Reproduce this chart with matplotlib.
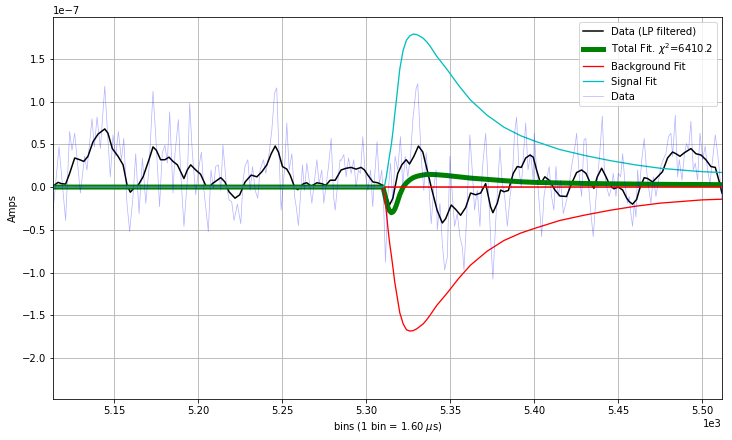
import matplotlib
matplotlib.use("Agg")
import matplotlib.pyplot as plt
import numpy as np

# ---- LP filtered data (units of 1e-7 A) ----
lp_bins = [5113.7, 5116.7, 5118.7, 5121.2, 5123.6, 5126.6, 5129.6, 5132.0, 5134.5, 5137.5,
           5140.5, 5144.5, 5146.4, 5149.0, 5152.4, 5155.4, 5157.8, 5159.7, 5161.7, 5164.3,
           5167.3, 5170.8, 5173.2, 5175.2, 5177.7, 5180.3, 5182.7, 5185.1, 5187.7, 5191.6,
           5193.6, 5195.6, 5198.6, 5201.5, 5204.5, 5206.5, 5208.5, 5213.5, 5216.0, 5218.4,
           5222.0, 5224.8, 5228.0, 5231.6, 5235.0, 5238.0, 5240.9, 5243.5, 5245.9, 5247.8,
           5250.2, 5252.8, 5254.8, 5257.4, 5259.3, 5262.7, 5264.7, 5267.3, 5270.7, 5273.6,
           5276.0, 5278.6, 5281.6, 5285.1, 5288.1, 5291.0, 5294.0, 5297.0, 5299.0, 5301.0,
           5304.0, 5306.9, 5309.9, 5311.9, 5313.9, 5315.9, 5318.8, 5321.2, 5323.8, 5325.8,
           5328.4, 5331.1, 5333.7, 5336.3, 5338.7, 5342.2, 5345.3, 5347.3, 5350.6, 5353.2,
           5356.2, 5359.2, 5362.1, 5365.1, 5368.1, 5371.1, 5374.0, 5375.4, 5378.0, 5380.0,
           5382.0, 5384.6, 5387.5, 5389.9, 5392.3, 5394.9, 5397.5, 5399.4, 5401.4, 5403.8,
           5406.3, 5408.9, 5412.3, 5415.3, 5419.2, 5422.2, 5425.2, 5428.2, 5430.8, 5433.5,
           5435.5, 5437.5, 5440.1, 5442.7, 5445.0, 5447.4, 5450.0, 5452.6, 5455.0, 5456.5,
           5458.5, 5460.9, 5462.8, 5465.4, 5467.4, 5470.4, 5473.4, 5476.3, 5479.3, 5482.3,
           5484.3, 5486.7, 5489.2, 5493.2, 5496.2, 5499.2, 5502.1, 5505.1, 5507.7, 5510.1,
           5511.7]
lp_vals = [0.01, 0.055, 0.04, 0.035, 0.16, 0.34, 0.32, 0.30, 0.36, 0.53,
           0.62, 0.68, 0.63, 0.45, 0.36, 0.26, 0.02, -0.06, -0.015, 0.02,
           0.12, 0.32, 0.47, 0.43, 0.32, 0.32, 0.35, 0.30, 0.26, 0.10,
           0.20, 0.26, 0.20, 0.15, 0.02, -0.01, 0.04, 0.11, 0.06, -0.055,
           -0.13, -0.09, 0.06, 0.14, 0.12, 0.18, 0.26, 0.39, 0.48, 0.41,
           0.24, 0.21, 0.14, 0.0, -0.03, 0.04, 0.05, 0.01, 0.05, 0.04,
           0.02, 0.08, 0.08, 0.20, 0.22, 0.23, 0.21, 0.23, 0.20, 0.14,
           0.06, 0.05, 0.02, -0.09, -0.21, -0.13, 0.16, 0.26, 0.32, 0.27,
           0.36, 0.48, 0.41, 0.20, 0.0, -0.27, -0.42, -0.37, -0.21, -0.26,
           -0.33, -0.24, -0.07, -0.09, -0.07, 0.04, -0.23, -0.30, -0.19, -0.035,
           -0.055, -0.04, 0.16, 0.24, 0.23, 0.34, 0.375, 0.35, 0.20, 0.04,
           0.12, 0.08, -0.035, -0.105, -0.11, 0.04, 0.17, 0.20, 0.16, 0.04,
           -0.015, 0.12, 0.22, 0.12, 0.02, -0.02, 0.0, -0.035, -0.13, -0.17,
           -0.20, -0.145, -0.015, 0.11, 0.10, 0.06, 0.12, 0.18, 0.34, 0.41,
           0.39, 0.36, 0.40, 0.45, 0.39, 0.375, 0.32, 0.24, 0.23, 0.06,
           -0.07]

# ---- Fit curves (units of 1e-7 A) ----
fit_bins = [5113.7, 5310, 5311, 5312, 5313, 5314, 5315, 5316, 5317, 5318, 5319, 5320,
            5322, 5324, 5326, 5328, 5330, 5332, 5334, 5336, 5338, 5342, 5348, 5355,
            5362, 5372, 5382, 5392, 5400, 5415, 5430, 5445, 5460, 5475, 5490, 5500, 5511.7]
total_fit = [0, 0, -0.08, -0.17, -0.24, -0.28, -0.30, -0.29, -0.26, -0.21, -0.15, -0.09,
             0.0, 0.05, 0.085, 0.11, 0.125, 0.135, 0.142, 0.147, 0.148, 0.145, 0.135, 0.12,
             0.105, 0.09, 0.075, 0.062, 0.055, 0.048, 0.042, 0.038, 0.035, 0.032, 0.03, 0.03, 0.028]
background_fit = [0, 0, -0.10, -0.29, -0.49, -0.66, -0.80, -0.95, -1.11, -1.23, -1.35, -1.47,
                  -1.60, -1.67, -1.685, -1.68, -1.66, -1.63, -1.60, -1.553, -1.50, -1.385, -1.245, -1.07,
                  -0.915, -0.75, -0.625, -0.538, -0.485, -0.392, -0.328, -0.272, -0.225, -0.188, -0.165, -0.15, -0.142]
signal_fit = [0, 0, 0.02, 0.12, 0.25, 0.38, 0.50, 0.66, 0.85, 1.02, 1.20, 1.38,
              1.60, 1.72, 1.77, 1.79, 1.785, 1.765, 1.74, 1.70, 1.65, 1.53, 1.38, 1.19,
              1.02, 0.84, 0.70, 0.60, 0.54, 0.44, 0.37, 0.31, 0.26, 0.22, 0.195, 0.18, 0.17]
baseline_bins = [5310, 5511.7]
baseline_vals = [0, 0]

# ---- Raw data (units of 1e-7 A) ----
raw_bins = [5113.7, 5117.3, 5121.2, 5123.6, 5125.0, 5126.6, 5130.0, 5132.5, 5133.9, 5136.9,
            5138.3, 5139.9, 5141.9, 5144.5, 5146.4, 5147.8, 5149.4, 5151.0, 5152.6, 5154.4,
            5155.8, 5157.7, 5159.3, 5161.3, 5162.9, 5164.9, 5166.9, 5168.9, 5170.8,
            5173.2, 5175.2, 5177.1, 5178.7, 5180.3, 5181.7, 5183.1, 5185.1, 5186.3, 5188.3,
            5189.6, 5191.6, 5193.6, 5195.0, 5196.6, 5198.6, 5200.2, 5202.0, 5203.5, 5206.1,
            5207.7, 5209.1, 5210.5, 5212.1, 5213.5, 5214.8, 5216.8, 5218.4, 5220.0, 5221.4,
            5223.4, 5225.4, 5226.8, 5228.0, 5229.6, 5231.0, 5232.4, 5234.0, 5235.5, 5236.9,
            5238.9, 5240.3, 5242.3, 5243.9, 5245.5, 5246.8, 5247.8, 5249.4, 5251.4, 5252.8,
            5254.2, 5255.8, 5257.4, 5258.4, 5259.7, 5261.3, 5262.1, 5263.3, 5264.7, 5266.1,
            5267.7, 5269.3, 5270.7, 5272.0, 5273.6, 5274.8, 5276.6, 5277.6, 5279.2, 5280.6,
            5281.6, 5283.2, 5284.5, 5285.1, 5286.7, 5288.1, 5289.5, 5291.1, 5292.6, 5294.0,
            5295.4, 5296.6, 5298.0, 5299.4, 5301.0, 5302.6, 5303.9, 5304.9, 5306.5, 5307.9,
            5309.3, 5310.5, 5311.5, 5312.9, 5314.5, 5315.9, 5317.2, 5318.8, 5320.4, 5321.8,
            5323.2, 5324.8, 5326.4, 5327.8, 5329.7, 5330.7, 5332.7, 5334.3, 5335.7, 5337.1,
            5338.7, 5340.3, 5341.6, 5342.3, 5343.9, 5345.3, 5346.7, 5348.3, 5349.8, 5351.2,
            5352.6, 5354.2, 5355.8, 5357.2, 5358.2, 5359.8, 5361.7, 5363.1, 5364.5, 5366.1,
            5367.7, 5369.1, 5371.1, 5372.5, 5374.0, 5375.4, 5377.0, 5378.6, 5379.6, 5381.0,
            5382.4, 5384.0, 5385.6, 5386.9, 5388.3, 5389.5, 5390.9, 5392.3, 5393.5, 5394.9,
            5396.3, 5397.9, 5399.4, 5400.0, 5401.4, 5403.0, 5404.4, 5405.8, 5407.3, 5408.9,
            5410.3, 5411.7, 5412.9, 5414.3, 5415.7, 5417.3, 5418.8, 5420.2, 5422.2, 5424.2,
            5425.2, 5426.8, 5428.2, 5429.6, 5430.7, 5432.1, 5433.5, 5435.1, 5436.5, 5438.1,
            5439.1, 5440.5, 5441.7, 5443.1, 5444.6, 5446.0, 5447.0, 5448.6, 5450.0, 5451.4,
            5452.6, 5454.0, 5455.4, 5456.5, 5457.5, 5458.5, 5459.5, 5460.5, 5461.5, 5462.5,
            5464.0, 5465.4, 5466.8, 5468.0, 5469.4, 5470.8, 5472.4, 5474.0, 5475.3, 5476.7,
            5478.3, 5479.9, 5481.3, 5482.3, 5483.9, 5485.3, 5486.3, 5487.9, 5489.2, 5490.6,
            5491.8, 5493.2, 5494.6, 5495.8, 5497.2, 5498.6, 5500.2, 5501.7, 5503.1, 5504.5,
            5506.1, 5507.7, 5509.1, 5510.1, 5511.1, 5511.7]
raw_vals = [-0.29, 0.47, -0.39, 0.65, 0.43, 0.63, -0.07, 0.36, 0.20, 0.80,
            0.47, 0.82, 0.45, 1.18, 0.55, 0.12, 0.61, 0.36, 0.65, 0.32,
            0.57, -0.19, -0.52, -0.11, 0.39, -0.31, 0.34, -0.19, 0.22,
            1.12, 0.47, -0.23, 0.40, 0.49, 0.28, 0.88, -0.07, 0.40, 0.79,
            0.20, -0.46, 0.08, 0.98, 0.40, -0.09, 0.20, 0.41, -0.04, -0.52,
            0.20, -0.02, 0.24, 0.26, -0.04, 0.49, 0.04, -0.15, -0.17, -0.39,
            -0.20, -0.43, 0.08, 0.25, 0.32, -0.04, 0.24, -0.04, -0.13, 0.20,
            0.32, 0.16, 0.40, 0.67, 1.10, 1.16, 0.59, -0.27, 0.20, 0.75,
            0.20, 0.39, -0.11, -0.23, -0.45, 0.00, 0.26, -0.04, 0.28, 0.08,
            -0.19, 0.08, 0.32, 0.04, 0.20, -0.19, 0.08, 0.24, 0.57, -0.11,
            -0.27, 0.08, 0.32, 0.31, 0.38, 0.12, 0.34, 0.16, 0.32, 0.00,
            0.20, 0.16, 0.59, 0.16, -0.04, 0.20, -0.23, 0.08, 0.53, 0.04,
            0.20, -0.27, -0.88, -0.11, 0.28, -0.19, 0.36, 0.20, 0.59, 0.00,
            0.36, 0.12, 0.36, 0.79, 1.15, 1.21, 0.36, -0.04, 0.40, 0.08,
            -0.43, 0.00, 0.20, -0.50, -0.19, -0.66, -0.97, -0.82, 0.36, -0.07,
            -0.46, -0.31, -0.58, -0.70, -0.97, -0.35, 0.61, 0.20, -0.27, -0.04,
            -0.46, 0.20, 0.63, 0.08, -0.58, -1.08, -0.43, 0.12, 0.47, 0.04,
            -0.11, -0.46, -0.11, 0.08, 0.63, 0.82, 0.20, 0.00, 0.36, 0.75,
            0.20, 0.39, 0.08, 0.63, 0.20, -0.19, -0.58, -0.11, 0.08, 0.24,
            -0.11, -0.27, 0.24, -0.11, 0.08, -0.31, -0.19, -0.07, 0.24, 0.47,
            0.63, 0.12, -0.11, 0.55, 0.57, 0.08, -0.27, -0.58, -0.19, 0.20,
            0.43, 0.83, 0.20, 0.00, -0.11, 0.00, 0.16, -0.11, 0.16, 0.12,
            0.39, 0.04, -0.19, -0.11, -0.31, -0.46, -0.19, -0.35, 0.20, -0.04,
            0.32, 0.57, 0.20, 0.00, -0.19, 0.12, -0.11, 0.08, 0.24, 0.32,
            0.39, 0.59, 0.63, 0.36, 0.84, 0.12, 0.32, 0.08, 0.36, 0.51,
            0.43, 0.77, 0.20, 0.28, 0.08, 0.63, 0.32, 0.48, 0.20, 0.04,
            0.32, 0.61, 0.39, 0.20, -0.04, -0.15]

SCALE = 1e-7
x_ticks = [5150, 5200, 5250, 5300, 5350, 5400, 5450, 5500]
y_ticks = [-2.0, -1.5, -1.0, -0.5, 0.0, 0.5, 1.0, 1.5]
chi2 = 6410.2

def s(v):
    return np.asarray(v) * SCALE

fig = plt.figure(figsize=(732 / 72, 440 / 72), dpi=72)
ax = fig.add_axes([53 / 732, 1 - 399 / 440, (722 - 53) / 732, (399 - 17) / 440])

ax.plot(lp_bins, s(lp_vals), color='k', lw=1.5, label='Data (LP filtered)')
ax.plot(fit_bins, s(total_fit), color='g', lw=5, label=r'Total Fit. $\chi^2$=%.1f' % chi2)
ax.plot(fit_bins, s(background_fit), color='r', lw=1.3, label='Background Fit')
ax.plot(baseline_bins, s(baseline_vals), color='r', lw=1.5)
ax.plot(fit_bins, s(signal_fit), color='c', lw=1.3, label='Signal Fit')
ax.plot(raw_bins, s(raw_vals), color='b', lw=0.7, alpha=0.3, label='Data')

ax.set_xlim(5113.7, 5511.7)
ax.set_ylim(-2.48e-7, 1.99e-7)
ax.set_xticks(x_ticks)
ax.set_yticks(s(y_ticks))
ax.ticklabel_format(style='sci', axis='both', scilimits=(0, 0))
ax.grid(True, color='#b0b0b0', lw=0.8)
ax.set_axisbelow(True)
ax.set_xlabel(r'bins (1 bin = 1.60 $\mu$s)')
ax.set_ylabel('Amps')
ax.legend(loc='upper right')

fig.savefig('out.png', dpi=72)
